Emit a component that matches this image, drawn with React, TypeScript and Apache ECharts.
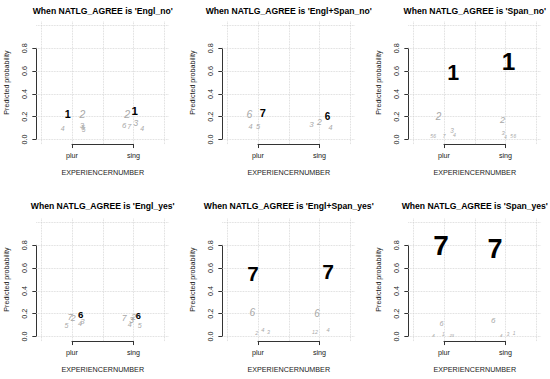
import React, { useEffect, useRef } from "react";
import * as echarts from "echarts";

const FONT = "'Liberation Sans', Arial, Helvetica, sans-serif";

const panelTitles = [
  "When NATLG_AGREE is 'Engl_no'",
  "When NATLG_AGREE is 'Engl+Span_no'",
  "When NATLG_AGREE is 'Span_no'",
  "When NATLG_AGREE is 'Engl_yes'",
  "When NATLG_AGREE is 'Engl+Span_yes'",
  "When NATLG_AGREE is 'Span_yes'",
];
const xCategories = ["plur", "sing"];
const xTitle = "EXPERIENCERNUMBER";
const yTitle = "Predicted probability";
const gridYValues = [0, 0.2, 0.4, 0.6, 0.8, 1.0];
const gridXValues = [0.5, 1, 1.5, 2, 2.5];

// [digit label, jittered x position (1 = plur, 2 = sing), predicted probability]
const englNo: [number, number, number][] = [
  [4, 0.85, 0.098], [3, 1.16, 0.125], [6, 1.18, 0.105], [5, 1.19, 0.09],
  [2, 1.17, 0.215], [1, 0.93, 0.224],
  [6, 1.85, 0.127], [7, 1.93, 0.11], [3, 2.04, 0.147], [4, 2.14, 0.098],
  [2, 1.9, 0.224], [1, 2.02, 0.25],
];
const englSpanNo: [number, number, number][] = [
  [4, 0.88, 0.112], [5, 1.0, 0.112], [6, 0.86, 0.215], [7, 1.08, 0.235],
  [3, 1.87, 0.133], [2, 2.0, 0.156], [4, 2.18, 0.107], [6, 2.13, 0.2],
];
const spanNo: [number, number, number][] = [
  [5, 0.8, 0.035], [6, 0.85, 0.035], [7, 1.0, 0.03], [4, 1.17, 0.04],
  [3, 1.13, 0.08], [2, 0.91, 0.2], [1, 1.15, 0.58],
  [4, 2.0, 0.02], [5, 2.1, 0.025], [6, 2.15, 0.025], [3, 1.96, 0.06],
  [2, 1.95, 0.17], [1, 2.05, 0.68],
];
const englYes: [number, number, number][] = [
  [5, 0.91, 0.1], [4, 1.13, 0.115], [3, 1.17, 0.13], [7, 0.97, 0.174],
  [2, 1.02, 0.16], [6, 1.14, 0.19],
  [4, 1.94, 0.107], [5, 2.1, 0.1], [3, 1.97, 0.145], [7, 1.85, 0.16],
  [2, 2.0, 0.174], [6, 2.08, 0.176],
];
const englSpanYes: [number, number, number][] = [
  [2, 0.98, 0.035], [4, 1.08, 0.057], [3, 1.17, 0.04], [6, 0.91, 0.21],
  [7, 0.92, 0.555],
  [1, 1.9, 0.04], [2, 1.95, 0.04], [4, 2.14, 0.057], [6, 1.96, 0.2],
  [7, 2.14, 0.57],
];
const spanYes: [number, number, number][] = [
  [4, 0.83, 0.012], [1, 0.99, 0.02], [2, 1.11, 0.012], [3, 1.14, 0.012],
  [6, 0.96, 0.11], [7, 0.95, 0.8],
  [4, 1.93, 0.012], [3, 2.04, 0.015], [1, 2.14, 0.033], [6, 1.8, 0.136],
  [7, 1.83, 0.77],
];

const panels = [englNo, englSpanNo, spanNo, englYes, englSpanYes, spanYes];

function buildOption() {
  const grid: any[] = [];
  const xAxis: any[] = [];
  const yAxis: any[] = [];
  const series: any[] = [];
  const graphic: any[] = [];
  const axisColor = "#333";
  const textColor = "#222";

  panels.forEach((pts, i) => {
    const c = i % 3;
    const r = Math.floor(i / 3);
    const ox = 186 * c;
    const oy = 197 * r;
    const x1 = 72 + ox;
    const sx = 61.5;
    const y0 = 139.5 + oy;
    const sy = 114;
    const g = 3 * i;

    // main plotting grid
    grid.push({ left: x1 - 0.58 * sx, top: y0 - 1.04 * sy, width: 2.16 * sx, height: 1.08 * sy, outerBoundsMode: "none" });
    xAxis.push({ gridIndex: g, type: "value", min: 0.42, max: 2.58, show: false });
    yAxis.push({
      gridIndex: g, type: "value", min: -0.04, max: 1.04,
      axisLine: { show: false }, axisTick: { show: false }, axisLabel: { show: false }, splitLine: { show: false },
      name: yTitle, nameLocation: "middle", nameGap: 26,
      nameTextStyle: { fontSize: 7.1, color: textColor, fontFamily: FONT },
    });

    // y axis grid (0..0.8)
    grid.push({ left: x1 - 0.58 * sx, top: y0 - 0.8 * sy, width: 2.16 * sx, height: 0.8 * sy, outerBoundsMode: "none" });
    xAxis.push({ gridIndex: g + 1, type: "value", min: 0.42, max: 2.58, show: false });
    yAxis.push({
      gridIndex: g + 1, type: "value", min: 0, max: 0.8, interval: 0.2,
      axisLine: { show: true, lineStyle: { color: axisColor, width: 1 } },
      axisTick: { show: true, length: 4, lineStyle: { color: axisColor } },
      axisLabel: {
        rotate: 90, fontSize: 7.2, margin: 8, color: textColor, fontFamily: FONT,
        formatter: (v: number) => v.toFixed(1), showMinLabel: true, showMaxLabel: true,
      },
      splitLine: { show: false },
    });

    // x axis grid (plur..sing)
    grid.push({ left: x1, top: y0 + 0.04 * sy - 10, width: sx, height: 10, outerBoundsMode: "none" });
    xAxis.push({
      gridIndex: g + 2, type: "value", min: 1, max: 2, interval: 1,
      axisLine: { show: true, lineStyle: { color: axisColor, width: 1 } },
      axisTick: { show: true, length: 4, lineStyle: { color: axisColor } },
      axisLabel: {
        fontSize: 7.2, margin: 8, color: textColor, fontFamily: FONT,
        formatter: (v: number) => xCategories[Math.round(v) - 1] || "",
        showMinLabel: true, showMaxLabel: true,
      },
      splitLine: { show: false },
      name: xTitle, nameLocation: "middle", nameGap: 25,
      nameTextStyle: { fontSize: 7.2, color: textColor, fontFamily: FONT },
    });
    yAxis.push({ gridIndex: g + 2, type: "value", min: 0, max: 1, show: false });

    // winners per group (largest probability in plur / sing)
    const maxByGroup = [0, 0];
    pts.forEach(([, x, y]) => {
      const k = x < 1.5 ? 0 : 1;
      if (y > maxByGroup[k]) maxByGroup[k] = y;
    });
    const items = pts.map(([d, x, y]) => {
      const k = x < 1.5 ? 0 : 1;
      const win = y === maxByGroup[k] ? 1 : 0;
      return [x, y, d, win];
    });
    items.sort((a, b) => a[3] - b[3]);

    // grid lines
    series.push({
      type: "line",
      xAxisIndex: g,
      yAxisIndex: g,
      data: [],
      silent: true,
      markLine: {
        silent: true,
        symbol: ["none", "none"],
        label: { show: false },
        lineStyle: { type: "dotted", color: "#d0d0d0", width: 0.8 },
        data: [
          ...gridYValues.map((v) => ({ yAxis: v })),
          ...gridXValues.map((v) => ({ xAxis: v })),
        ],
      },
    });

    // digits
    series.push({
      type: "custom",
      xAxisIndex: g,
      yAxisIndex: g,
      silent: true,
      clip: false,
      z: 5,
      data: items,
      renderItem: (params: any, api: any) => {
        const x = api.value(0);
        const y = api.value(1);
        const d = api.value(2);
        const win = api.value(3) === 1;
        const pt = api.coord([x, y]);
        return {
          type: "text",
          x: pt[0],
          y: pt[1],
          style: {
            text: String(d),
            fill: win ? "#000000" : "#a8a8a8",
            fontSize: 4 + 30 * y,
            fontWeight: win ? "bold" : "normal",
            fontStyle: win ? "normal" : "italic",
            fontFamily: FONT,
            align: "center",
            verticalAlign: "middle",
          },
        };
      },
    });

    graphic.push({
      type: "text",
      x: x1 + 0.5 * sx,
      y: r === 0 ? 11 : 206,
      style: {
        text: panelTitles[i],
        fontSize: 8.6,
        fontWeight: "bold",
        fontFamily: FONT,
        fill: "#000",
        align: "center",
        textAlign: "center",
        verticalAlign: "middle",
        textVerticalAlign: "middle",
      },
    });
  });

  return {
    animation: false,
    backgroundColor: "#ffffff",
    grid,
    xAxis,
    yAxis,
    series,
    graphic,
  };
}

export default function App() {
  const ref = useRef<HTMLDivElement>(null);
  useEffect(() => {
    document.body.style.margin = "0";
    if (!ref.current) return;
    const chart = echarts.init(ref.current, undefined, { renderer: "svg" });
    chart.setOption(buildOption() as any);
    return () => chart.dispose();
  }, []);
  return <div ref={ref} style={{ width: 550, height: 379, position: "absolute", left: 0, top: 0 }} />;
}
